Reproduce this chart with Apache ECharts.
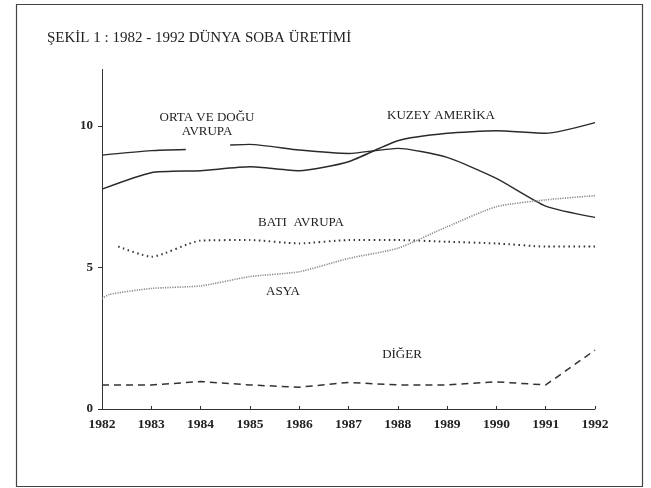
<!DOCTYPE html>
<html>
<head>
<meta charset="utf-8">
<script src="https://cdn.jsdelivr.net/npm/echarts@6/dist/echarts.min.js"></script>
<style>
html,body{margin:0;padding:0;background:#fff;}
#c{width:651px;height:488px;}
</style>
</head>
<body>
<div id="c"></div>
<script>
var years = [1982,1983,1984,1985,1986,1987,1988,1989,1990,1991,1992];
var yTicks = [0,5,10];
var title = 'ŞEKİL 1 : 1982 - 1992 DÜNYA SOBA ÜRETİMİ';

var kuzeyAmerika = [7.77,8.35,8.42,8.56,8.42,8.74,9.48,9.74,9.83,9.74,10.12];
// Orta ve Doğu Avrupa: broken around its label
var ortaX = [1982,1983,1983.7,1984.2,1984.6,1985,1986,1987,1988,1989,1990,1991,1992];
var ortaY = [8.97,9.13,9.17,'-',9.33,9.35,9.15,9.03,9.21,8.89,8.15,7.17,6.77];
var batiX = [1982.33,1983,1984,1985,1986,1987,1988,1989,1990,1991,1992];
var batiY = [5.74,5.38,5.95,5.97,5.85,5.97,5.97,5.91,5.85,5.74,5.74];
var asyaX = [1982,1982.15,1983,1984,1985,1986,1987,1988,1989,1990,1991,1992];
var asyaY = [3.9,4.05,4.26,4.35,4.68,4.85,5.32,5.68,6.44,7.15,7.39,7.54];
var diger = [0.85,0.85,0.97,0.85,0.77,0.94,0.85,0.85,0.96,0.85,2.08];

function pairs(xs, ys){ return xs.map(function(x,i){ return [x, ys[i]]; }); }

var serif = '"Liberation Serif", "DejaVu Serif", serif';
var chart = echarts.init(document.getElementById('c'));
chart.setOption({
  animation:false,
  backgroundColor:'#fff',
  grid:{left:102, right:56, top:69.4, bottom:79, containLabel:false},
  xAxis:{
    type:'value', min:1982, max:1992, interval:1,
    axisLine:{lineStyle:{color:'#333', width:1}},
    axisTick:{inside:true, length:3, lineStyle:{color:'#333'}},
    splitLine:{show:false},
    axisLabel:{color:'#222', fontFamily:serif, fontSize:13.5, fontWeight:'bold', margin:9,
      formatter:function(v){ return String(v); }}
  },
  yAxis:{
    type:'value', min:0, max:12, interval:5,
    axisLine:{show:true, lineStyle:{color:'#333', width:1}},
    axisTick:{show:true, length:4, lineStyle:{color:'#333'}},
    splitLine:{show:false},
    axisLabel:{color:'#222', fontFamily:serif, fontSize:13, fontWeight:'bold', margin:9, showMaxLabel:false,
      formatter:function(v){ return yTicks.indexOf(v)>=0 ? String(v) : ''; }}
  },
  series:[
    {name:'KUZEY AMERİKA', type:'line', data:pairs(years,kuzeyAmerika), showSymbol:false, smooth:0.2,
      lineStyle:{color:'#2a2a2a', width:1.5}},
    {name:'ORTA VE DOĞU AVRUPA', type:'line', data:pairs(ortaX,ortaY), showSymbol:false, connectNulls:false, smooth:0.2,
      lineStyle:{color:'#2a2a2a', width:1.4}},
    {name:'BATI AVRUPA', type:'line', data:pairs(batiX,batiY), showSymbol:false, smooth:0.2,
      lineStyle:{color:'#333', width:2, type:[1.5,3.5]}},
    {name:'ASYA', type:'line', data:pairs(asyaX,asyaY), showSymbol:false, smooth:0.2,
      lineStyle:{color:'#8a8a8a', width:1.6, type:[1.2,1.2]}},
    {name:'DİĞER', type:'line', data:pairs(years,diger), showSymbol:false,
      lineStyle:{color:'#333', width:1.5, type:[7,5]}}
  ],
  graphic:[
    {type:'rect', shape:{x:16.5, y:4.5, width:626, height:482}, style:{fill:null, stroke:'#444', lineWidth:1.2}, silent:true},
    {type:'text', x:47, y:38, style:{text:title, font:'15px '+serif, fill:'#222', verticalAlign:'middle'}},
    {type:'text', x:207, y:125, style:{text:'ORTA VE DOĞU\nAVRUPA', font:'13px '+serif, fill:'#222', align:'center', verticalAlign:'middle', lineHeight:14}},
    {type:'text', x:441, y:116, style:{text:'KUZEY AMERİKA', font:'13px '+serif, fill:'#222', align:'center', verticalAlign:'middle'}},
    {type:'text', x:301, y:223, style:{text:'BATI  AVRUPA', font:'13px '+serif, fill:'#222', align:'center', verticalAlign:'middle'}},
    {type:'text', x:283, y:292, style:{text:'ASYA', font:'13px '+serif, fill:'#222', align:'center', verticalAlign:'middle'}},
    {type:'text', x:402, y:355, style:{text:'DİĞER', font:'13px '+serif, fill:'#222', align:'center', verticalAlign:'middle'}}
  ]
});
</script>
</body>
</html>
